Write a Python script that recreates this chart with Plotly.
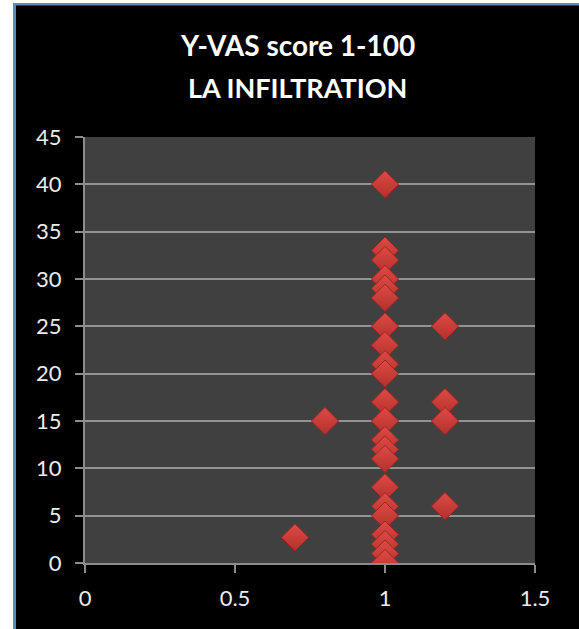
import plotly.graph_objects as go

# Data
x_values = [1] * 22 + [0.7, 0.8, 1.2, 1.2, 1.2, 1.2]
y_values = [40, 33, 32, 30, 29, 28, 25, 23, 21, 20, 17, 15, 13, 12, 11, 8, 6, 5, 3, 2, 1, 0,
            2.7, 15, 25, 17, 15, 6]
x_ticks = [0, 0.5, 1, 1.5]
y_ticks = [0, 5, 10, 15, 20, 25, 30, 35, 40, 45]
title_lines = ["Y-VAS score 1-100", "LA INFILTRATION"]

W, H = 579, 629
L, R, T, B = 85, 44, 137, 66
pw, ph = W - L - R, H - T - B


def px(x):
    return (x - L) / pw


def py(y):
    return (H - B - y) / ph


fig = go.Figure()
fig.add_trace(go.Scatter(
    x=x_values, y=y_values, mode="markers",
    marker=dict(symbol="diamond", size=21, color="#df4a45",
                gradient=dict(type="vertical", color="#b3302c"),
                line=dict(color="#9a2622", width=1)),
    hoverinfo="x+y", showlegend=False,
))

axis_common = dict(
    showgrid=False, zeroline=False, showline=True, linecolor="#8c8c8c", linewidth=2,
    ticks="outside", ticklen=8, tickcolor="#8c8c8c", tickwidth=2,
    tickfont=dict(family="Lato", size=22, color="#ececec"),
)
fig.update_xaxes(range=[0, 1.5], tickvals=x_ticks, ticktext=[str(t) for t in x_ticks],
                 ticklabelstandoff=7, **axis_common)
ya = dict(axis_common)
ya["showgrid"] = True
fig.update_yaxes(range=[0, 45], tickvals=y_ticks, gridcolor="#939393", gridwidth=2,
                 ticklabelstandoff=9, **ya)

shapes = [
    # white outside area
    dict(type="rect", xref="paper", yref="paper", x0=px(-10), x1=px(13), y0=py(H + 10), y1=py(-10),
         fillcolor="white", line=dict(width=0), layer="below"),
    dict(type="rect", xref="paper", yref="paper", x0=px(-10), x1=px(W + 10), y0=py(3), y1=py(-10),
         fillcolor="white", line=dict(width=0), layer="below"),
    # blue frame
    dict(type="rect", xref="paper", yref="paper", x0=px(13), x1=px(16), y0=py(H + 10), y1=py(3),
         fillcolor="#5b87c2", line=dict(width=0), layer="below"),
    dict(type="rect", xref="paper", yref="paper", x0=px(13), x1=px(W + 10), y0=py(5.5), y1=py(3),
         fillcolor="#5b87c2", line=dict(width=0), layer="below"),
]

annotations = [
    dict(text="<b>%s</b>" % title_lines[0], xref="paper", yref="paper", x=px(297), y=py(45),
         xanchor="center", yanchor="middle", showarrow=False,
         font=dict(family="Lato", size=28, color="white")),
    dict(text="<b>%s</b>" % title_lines[1], xref="paper", yref="paper", x=px(297), y=py(87),
         xanchor="center", yanchor="middle", showarrow=False,
         font=dict(family="Lato", size=27, color="white")),
]

fig.update_layout(
    width=W, height=H, margin=dict(l=L, r=R, t=T, b=B, pad=0),
    paper_bgcolor="black", plot_bgcolor="#404040",
    shapes=shapes, annotations=annotations,
)

fig.write_html("out.html", config={"displayModeBar": False},
               post_script=("document.body.style.margin='0';"
                            "document.body.style.overflow='hidden';"
                            "document.body.style.background='black';"
                            "document.documentElement.style.background='black';"))
